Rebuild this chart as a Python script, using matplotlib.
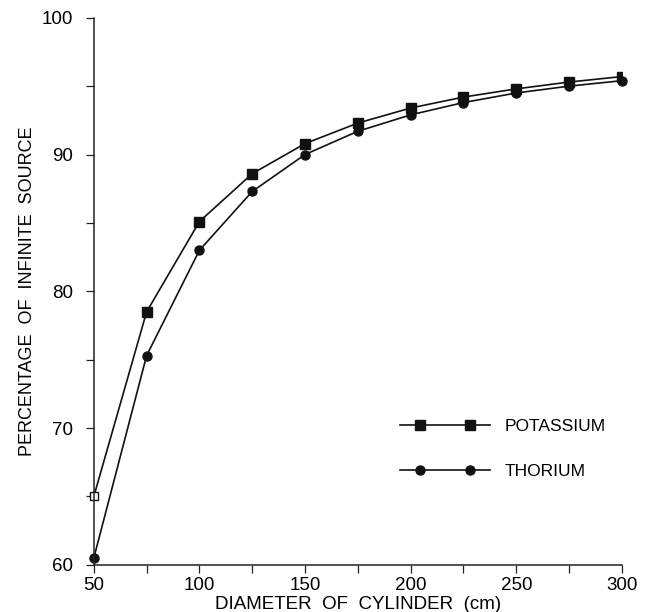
import numpy as np
import matplotlib.pyplot as plt
from matplotlib.legend_handler import HandlerLine2DCompound

plt.rcParams['font.family'] = ['Liberation Sans', 'DejaVu Sans']

diameter = [50, 75, 100, 125, 150, 175, 200, 225, 250, 275, 300]
potassium = [65.0, 78.5, 85.1, 88.6, 90.8, 92.3, 93.4, 94.2, 94.8, 95.3, 95.7]
thorium = [60.5, 75.3, 83.0, 87.3, 90.0, 91.7, 92.9, 93.8, 94.5, 95.0, 95.4]


class InsetMarkers(HandlerLine2DCompound):
    # full-length line, markers pulled in from both ends
    def get_xdata(self, legend, xdescent, ydescent, width, height, fontsize):
        pad = self._marker_pad * fontsize
        xline = np.array([-xdescent, -xdescent + width])
        xmark = np.array([-xdescent + pad, -xdescent + width - pad])
        return xline, xmark


fig = plt.figure(figsize=(6.56, 6.12), dpi=100)
ax = fig.add_axes([0.143, 0.077, 0.805, 0.894])

kline, = ax.plot(diameter[1:], potassium[1:], color='#111111', lw=1.2, marker='s', ms=7,
                 label='POTASSIUM')
ax.plot(diameter[:2], potassium[:2], color='#111111', lw=1.2)
ax.plot(diameter[0], potassium[0], color='#111111', marker='s', ms=6, mfc='white',
        mew=1.0, clip_on=False)
tline, = ax.plot(diameter, thorium, color='#111111', lw=1.2, marker='o', ms=6.5,
                 label='THORIUM', clip_on=False)

ax.set_xlim(50, 300)
ax.set_ylim(60, 100)
ax.set_xticks([50, 100, 150, 200, 250, 300])
ax.set_xticks([75, 125, 175, 225, 275], minor=True)
ax.set_yticks([60, 70, 80, 90, 100])
ax.set_yticks([65, 75, 85, 95], minor=True)
ax.tick_params(which='both', direction='out', labelsize=13.5, color='#222222', width=0.9)
ax.tick_params(which='major', length=6)
ax.tick_params(which='minor', length=6)
ax.tick_params(axis='x', pad=3)
ax.tick_params(axis='y', pad=9)
ax.spines['top'].set_visible(False)
ax.spines['right'].set_visible(False)
for s in ['left', 'bottom']:
    ax.spines[s].set_linewidth(1.1)
    ax.spines[s].set_color('#222222')

ax.set_xlabel('DIAMETER  OF  CYLINDER  (cm)', fontsize=13.5, labelpad=1)
ax.set_ylabel('PERCENTAGE  OF  INFINITE  SOURCE', fontsize=13, labelpad=4)

hmap = {kline: InsetMarkers(numpoints=2, marker_pad=1.15),
        tline: InsetMarkers(numpoints=2, marker_pad=1.15)}
ax.legend(handles=[kline, tline], handler_map=hmap, loc='center left',
          bbox_to_anchor=(0.55, 0.212), frameon=False,
          handlelength=5.2, fontsize=12.5, labelspacing=1.7, handletextpad=0.85)

plt.savefig('out.png')
